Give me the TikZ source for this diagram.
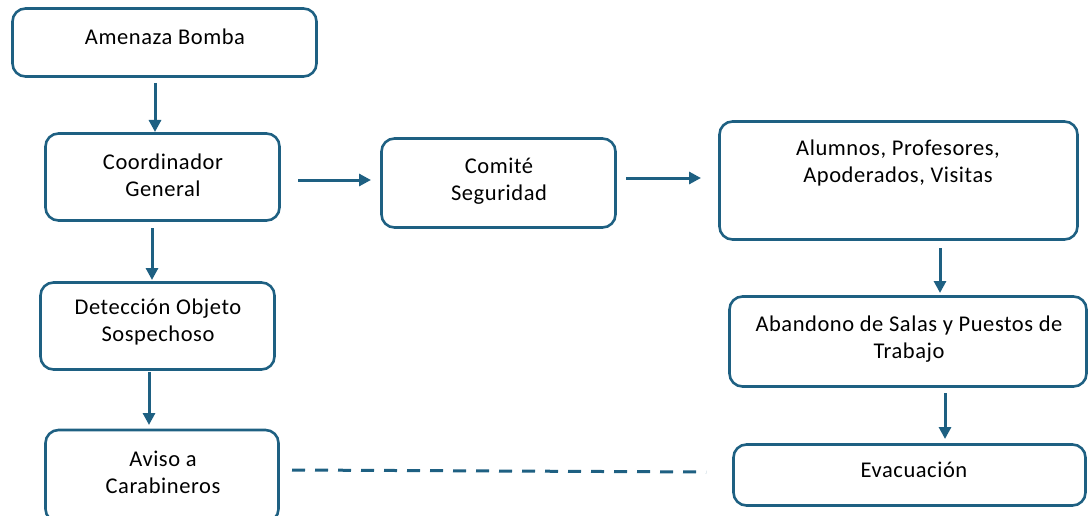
\documentclass[tikz,border=0pt]{standalone}
\usepackage{fontspec}
\setmainfont[LetterSpace=2.5]{Carlito}
\usetikzlibrary{arrows.meta}
\definecolor{mycol}{RGB}{30,96,130}
\begin{document}
\begin{tikzpicture}[x=1pt,y=-1pt,
  box/.style={draw=mycol,line width=2.6pt,rounded corners=13pt,inner sep=0pt},
  txt/.style={align=center,font=\fontsize{22.5}{27}\selectfont,inner sep=0pt},
  arr/.style={draw=mycol,line width=3pt,-{Triangle[length=12pt,width=12pt]}},
  dashline/.style={draw=mycol,line width=3pt,dash pattern=on 13pt off 10pt}]
\useasboundingbox (0,0) rectangle (1089,516);
% boxes
\node[box,minimum width=304pt,minimum height=68pt] (amen) at (164.5,42.5) {};
\node[box,minimum width=234pt,minimum height=87pt] (coord) at (162.5,177) {};
\node[box,minimum width=234pt,minimum height=89pt] (comite) at (498.5,183) {};
\node[box,minimum width=358pt,minimum height=118pt] (alum) at (898.5,180.5) {};
\node[box,minimum width=357pt,minimum height=90pt] (aband) at (908,341.5) {};
\node[box,minimum width=352pt,minimum height=61pt] (evac) at (909.5,475) {};
\node[box,minimum width=234pt,minimum height=87pt] (detec) at (157.5,326) {};
\node[box,minimum width=233pt,minimum height=92pt] (aviso) at (162,476) {};
% texts
\node[txt] (amenT) at (165,37) {Amenaza Bomba};
\node[txt] (coordT) at (163,175) {Coordinador\\General};
\node[txt] (comiteT) at (499,181) {Comité\\Seguridad};
\node[txt] (alumT) at (898,163) {Alumnos, Profesores,\\Apoderados, Visitas};
\node[txt] (abandT) at (909,339) {Abandono de Salas y Puestos de\\Trabajo};
\node[txt] (evacT) at (914,470) {Evacuación};
\node[txt] (detecT) at (158,322) {Detección Objeto\\Sospechoso};
\node[txt] (avisoT) at (163,472) {Aviso a\\Carabineros};
% connector ends
\coordinate (a1) at (155,83);  \coordinate (a2) at (155,132);
\coordinate (b1) at (152,228); \coordinate (b2) at (152,280);
\coordinate (c1) at (149,372); \coordinate (c2) at (149,425);
\coordinate (d1) at (298,180); \coordinate (d2) at (371,180);
\coordinate (e1) at (626,178); \coordinate (e2) at (701,178);
\coordinate (f1) at (940,248); \coordinate (f2) at (940,293);
\coordinate (g1) at (945,393); \coordinate (g2) at (945,439);
\coordinate (h1) at (292,470); \coordinate (h2) at (706,472);
\draw[arr] (a1) -- (a2);
\draw[arr] (b1) -- (b2);
\draw[arr] (c1) -- (c2);
\draw[arr] (d1) -- (d2);
\draw[arr] (e1) -- (e2);
\draw[arr] (f1) -- (f2);
\draw[arr] (g1) -- (g2);
\draw[dashline] (h1) -- (h2);
\end{tikzpicture}
\end{document}
